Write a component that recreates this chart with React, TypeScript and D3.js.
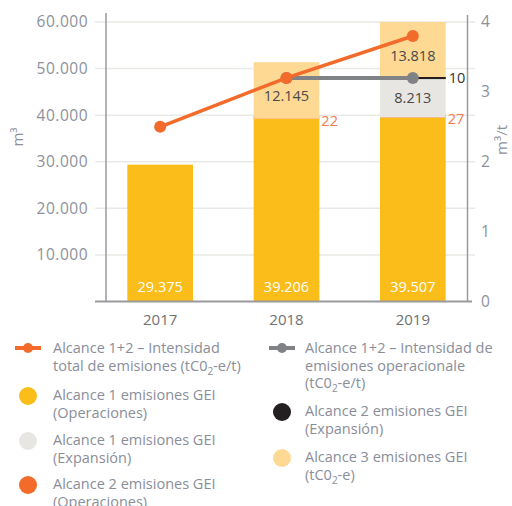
import React from "react";
import * as d3 from "d3";

const years = ["2017", "2018", "2019"];
const alc1Op = [29375, 39206, 39507];
const alc2Op = [0, 22, 27];
const alc1Exp = [0, 0, 8213];
const alc2Exp = [0, 0, 10];
const alc3 = [0, 12145, 13818];
const intensTotal = [2.5, 3.2, 3.8];
const intensOpYears = ["2018", "2019"];
const intensOp = [3.2, 3.2];
const leftTicks = [10000, 20000, 30000, 40000, 50000, 60000];
const rightTicks = [0, 1, 2, 3, 4];

const C = {
  yellow: "#FABD1A",
  lightOrange: "#FDD994",
  lightGray: "#E7E6E3",
  orange: "#F26B2B",
  black: "#231F20",
  grayLine: "#808286",
  grid: "#E9E9E5",
  axis: "#9A9A9E",
  tick: "#8C919C",
  text: "#8A8E9A",
};

const FONT = "'Open Sans', sans-serif";

const fmt = (v: number) => d3.format(",")(v).replace(/,/g, ".");

export default function App() {
  const x = d3.scaleBand<string>().domain(years).range([97, 476]).paddingInner(0.48).paddingOuter(0.24);
  const y = d3.scaleLinear().domain([0, 60000]).range([301.5, 22]).clamp(true);
  const yR = d3.scaleLinear().domain([0, 4]).range([301.5, 22]);

  const rows = years.map((yr, i) => ({
    year: yr,
    a1op: alc1Op[i],
    a2op: alc2Op[i],
    a1exp: alc1Exp[i],
    a2exp: alc2Exp[i],
    a3: alc3[i],
  }));
  const keys = ["a1op", "a2op", "a1exp", "a2exp", "a3"];
  const colors: Record<string, string> = {
    a1op: C.yellow,
    a2op: C.orange,
    a1exp: C.lightGray,
    a2exp: C.black,
    a3: C.lightOrange,
  };
  const minH: Record<string, number> = { a1op: 0, a2op: 3, a1exp: 0, a2exp: 2, a3: 0 };
  const stack = d3.stack<any>().keys(keys)(rows);
  const bw = x.bandwidth();
  const cx = (yr: string) => (x(yr) as number) + bw / 2;

  const totalLine = d3
    .line<number>()
    .x((_, i) => cx(years[i]))
    .y((d) => yR(d));
  const opLine = d3
    .line<number>()
    .x((_, i) => cx(intensOpYears[i]))
    .y((d) => yR(d));

  const sub = (pre: string, post: string) => (
    <>
      {pre}
      <tspan fontSize={10} dy={4}>2</tspan>
      <tspan dy={-4}>{post}</tspan>
    </>
  );

  const legendLeft = [
    { type: "line", color: C.orange, lines: [<>Alcance 1+2 – Intensidad</>, sub("total de emisiones (tC0", "-e/t)")] },
    { type: "dot", color: C.yellow, lines: [<>Alcance 1 emisiones GEI</>, <>(Operaciones)</>] },
    { type: "dot", color: C.lightGray, lines: [<>Alcance 1 emisiones GEI</>, <>(Expansión)</>] },
    { type: "dot", color: C.orange, lines: [<>Alcance 2 emisiones GEI</>, <>(Operaciones)</>] },
  ];
  const legendRight = [
    { type: "line", color: C.grayLine, lines: [<>Alcance 1+2 – Intensidad de</>, <>emisiones operacionale</>, sub("(tC0", "-e/t)")] },
    { type: "dot", color: C.black, lines: [<>Alcance 2 emisiones GEI</>, <>(Expansión)</>] },
    { type: "dot", color: C.lightOrange, lines: [<>Alcance 3 emisiones GEI</>, sub("(tC0", "-e)")] },
  ];
  const leftY = [348, 395, 440, 484];
  const rightY = [348, 411, 457];
  const lh = 17.5;

  const renderLegend = (items: any[], ys: number[], mx: number, tx: number) =>
    items.map((it, i) => (
      <g key={i}>
        {it.type === "line" ? (
          <g>
            <line x1={mx - 13} x2={mx + 13} y1={ys[i]} y2={ys[i]} stroke={it.color} strokeWidth={4} />
            <circle cx={mx} cy={ys[i]} r={5} fill={it.color} />
          </g>
        ) : (
          <circle cx={mx} cy={ys[i] + 1} r={9} fill={it.color} />
        )}
        {it.lines.map((ln: any, j: number) => (
          <text key={j} x={tx} y={ys[i] + j * lh} dy="0.35em" fontSize={14.5} fill={C.text} fontFamily={FONT}>
            {ln}
          </text>
        ))}
      </g>
    ));

  return (
    <div style={{ position: "absolute", left: 0, top: 0 }}>
      <svg width={512} height={506} style={{ display: "block", background: "#fff" }}>
        {/* gridlines */}
        {leftTicks.map((t) => (
          <line key={t} x1={95} x2={475} y1={y(t)} y2={y(t)} stroke={C.grid} strokeWidth={1.5} />
        ))}
        {/* bars */}
        {stack.map((s) => (
          <g key={s.key}>
            {s.map((d, i) => {
              const v = d[1] - d[0];
              if (v <= 0) return null;
              const y0 = y(d[0]);
              const y1 = y(d[1]);
              const h = Math.max(y0 - y1, minH[s.key]);
              return <rect key={i} x={x(years[i])} width={bw} y={y0 - h} height={h} fill={colors[s.key]} />;
            })}
          </g>
        ))}
        {/* axes */}
        <line x1={106} x2={106} y1={13} y2={301.5} stroke={C.axis} strokeWidth={1.5} />
        <line x1={467.5} x2={467.5} y1={15} y2={301.5} stroke={C.axis} strokeWidth={1.5} />
        <line x1={95} x2={472} y1={301.5} y2={301.5} stroke={C.axis} strokeWidth={2} />
        {leftTicks.map((t) => (
          <text key={t} x={88} y={y(t)} dy="0.35em" textAnchor="end" fontSize={15.5} fill={C.tick} fontFamily={FONT} letterSpacing={0.5}>
            {fmt(t)}
          </text>
        ))}
        {rightTicks.map((t) => (
          <text key={t} x={481} y={yR(t)} dy="0.35em" fontSize={15.5} fill={C.tick} fontFamily={FONT}>
            {t}
          </text>
        ))}
        <text transform="translate(23,137) rotate(-90)" textAnchor="middle" fontSize={15} fill={C.tick} fontFamily={FONT}>
          m³
        </text>
        <text transform="translate(507,140) rotate(-90)" textAnchor="middle" fontSize={15} fill={C.tick} fontFamily={FONT}>
          m³/t
        </text>
        {years.map((yr) => (
          <text key={yr} x={cx(yr)} y={320} dy="0.35em" textAnchor="middle" fontSize={15} fill="#707070" fontFamily={FONT}>
            {yr}
          </text>
        ))}
        {/* black Alcance 2 expansion marker line */}
        {stack[3].map((d, i) =>
          d[1] - d[0] > 0 ? (
            <line key={i} x1={x(years[i]) as number} x2={(x(years[i]) as number) + bw} y1={y(d[1]) - 1} y2={y(d[1]) - 1} stroke={C.black} strokeWidth={2} />
          ) : null
        )}
        {/* lines */}
        <path d={opLine(intensOp) as string} fill="none" stroke={C.grayLine} strokeWidth={4} />
        {intensOp.map((v, i) => (
          <circle key={i} cx={cx(intensOpYears[i])} cy={yR(v)} r={6} fill={C.grayLine} />
        ))}
        <path d={totalLine(intensTotal) as string} fill="none" stroke={C.orange} strokeWidth={3.5} />
        {intensTotal.map((v, i) => (
          <circle key={i} cx={cx(years[i])} cy={yR(v)} r={6} fill={C.orange} />
        ))}
        {/* value labels */}
        {years.map((yr, i) => (
          <text key={yr} x={cx(yr)} y={287} dy="0.35em" textAnchor="middle" fontSize={14.5} fill="#fff" fontFamily={FONT}>
            {fmt(alc1Op[i])}
          </text>
        ))}
        {stack[4].map((d, i) =>
          d[1] - d[0] > 0 ? (
            <text key={i} x={cx(years[i])} y={(y(d[0]) + y(d[1])) / 2 + 5} dy="0.35em" textAnchor="middle" fontSize={14.5} fill="#4A4A4A" fontFamily={FONT}>
              {fmt(alc3[i])}
            </text>
          ) : null
        )}
        {stack[2].map((d, i) =>
          d[1] - d[0] > 0 ? (
            <text key={i} x={cx(years[i])} y={(y(d[0]) + y(d[1])) / 2} dy="0.35em" textAnchor="middle" fontSize={14.5} fill="#4A4A4A" fontFamily={FONT}>
              {fmt(alc1Exp[i])}
            </text>
          ) : null
        )}
        {stack[1].map((d, i) =>
          d[1] - d[0] > 0 ? (
            <text key={i} x={(x(years[i]) as number) + bw + 2} y={y(d[1]) + 2} dy="0.35em" fontSize={14.5} fill="#F47B4F" fontFamily={FONT}>
              {fmt(alc2Op[i])}
            </text>
          ) : null
        )}
        {stack[3].map((d, i) =>
          d[1] - d[0] > 0 ? (
            <text key={i} x={(x(years[i]) as number) + bw + 3} y={y(d[1]) - 1} dy="0.35em" fontSize={14.5} fill="#333" fontFamily={FONT}>
              {fmt(alc2Exp[i])}
            </text>
          ) : null
        )}
        {/* legend */}
        {renderLegend(legendLeft, leftY, 28, 53)}
        {renderLegend(legendRight, rightY, 282, 305)}
      </svg>
    </div>
  );
}
